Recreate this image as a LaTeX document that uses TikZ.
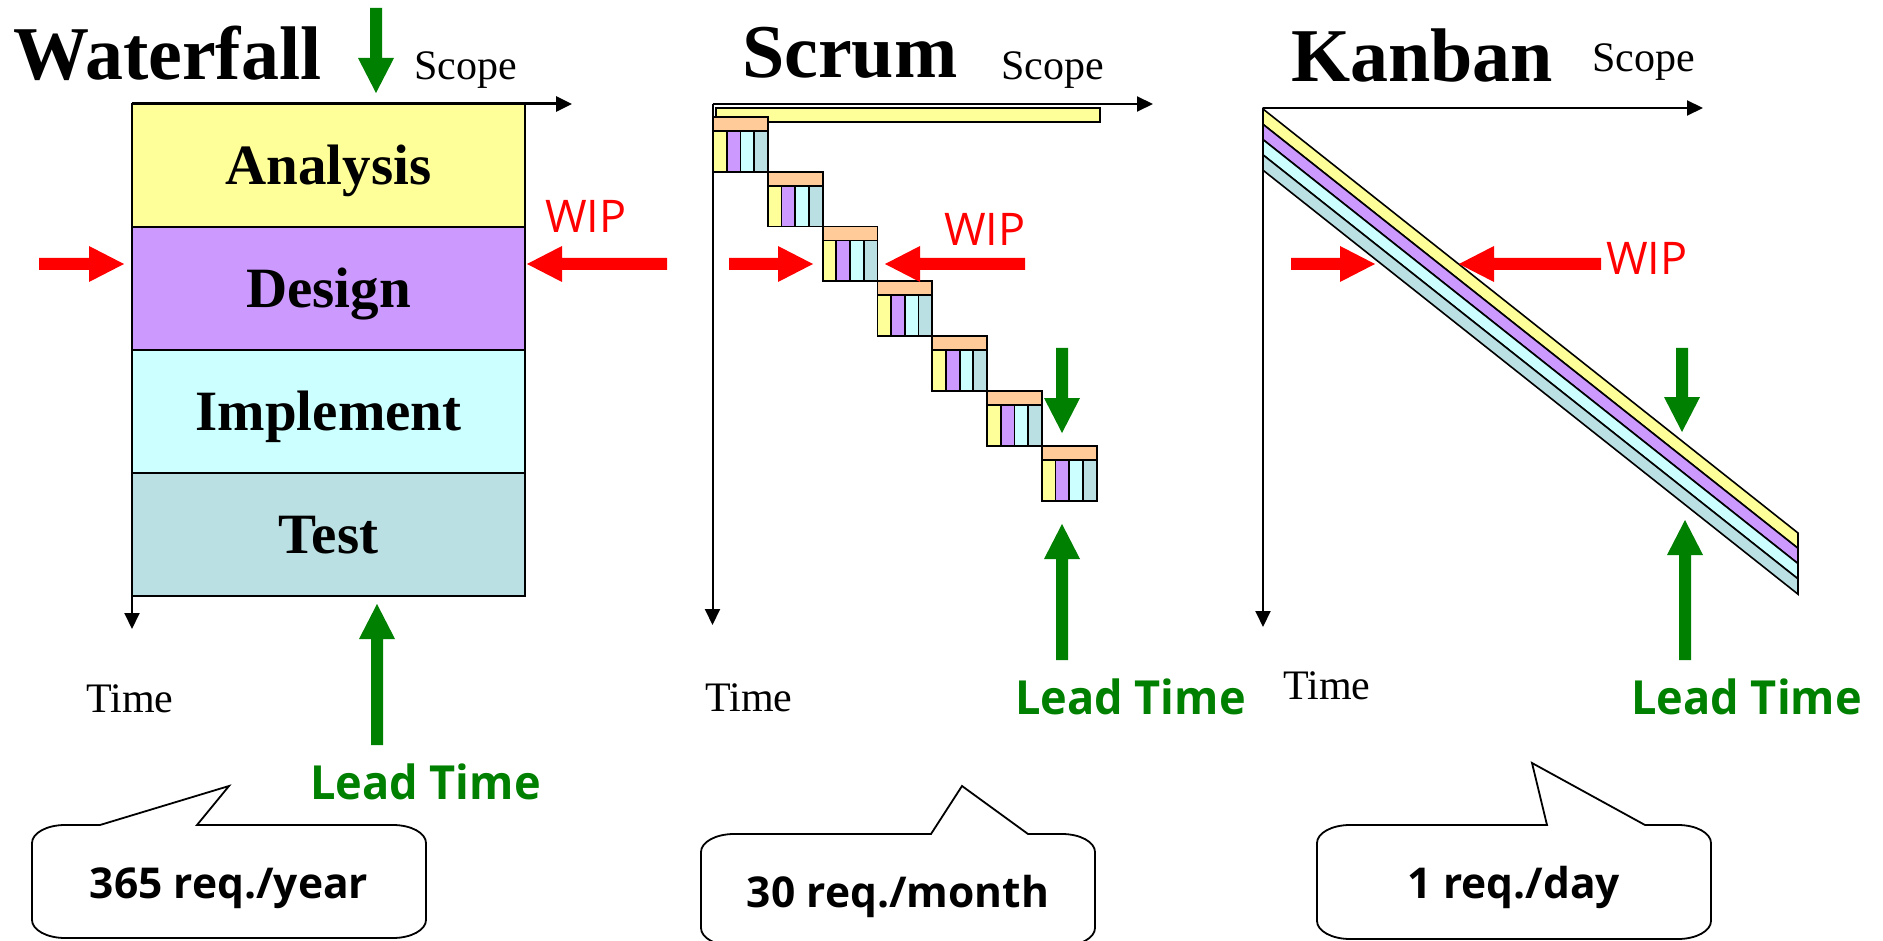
\documentclass[tikz,border=0pt]{standalone}
\usepackage{fontspec}
\setmainfont{Liberation Serif}
\newfontfamily\labelsans{Open Sans}
\newfontfamily\leadsans[FakeStretch=0.96]{Open Sans}
\usetikzlibrary{arrows.meta,calc}

\definecolor{anaY}{HTML}{FFFF99}
\definecolor{desP}{HTML}{CC99FF}
\definecolor{impC}{HTML}{CCFFFF}
\definecolor{tstT}{HTML}{BBE0E3}
\definecolor{hdrO}{HTML}{FFCC99}
\definecolor{leadG}{HTML}{008000}
\definecolor{wipR}{HTML}{FF0000}

% block arrow: colour, tail, tip
\newcommand{\blockarrow}[3]{%
  \path ($(#3)!35pt!(#2)$) coordinate (ahb);
  \fill[#1] ($(#2)!6pt!90:(#3)$) -- ($(ahb)!6pt!90:(#3)$) -- ($(ahb)!18pt!90:(#3)$)
    -- (#3) -- ($(ahb)!18pt!-90:(#3)$) -- ($(ahb)!6pt!-90:(#3)$) -- ($(#2)!6pt!-90:(#3)$) -- cycle;
}

% callout: left, top, right, bottom, pointer base left x, tip x, tip y, pointer base right x
\newcommand{\callout}[8]{%
  \filldraw[bubble] (#5,#2) -- (#6,#7) -- (#8,#2) -- ({#3-33},#2)
    arc[start angle=90, end angle=0, x radius=33pt, y radius=18pt] -- (#3,{#4-18})
    arc[start angle=0, end angle=-90, x radius=33pt, y radius=18pt] -- ({#1+33},#4)
    arc[start angle=-90, end angle=-180, x radius=33pt, y radius=18pt] -- (#1,{#2+18})
    arc[start angle=180, end angle=90, x radius=33pt, y radius=18pt] -- cycle;
}

\tikzset{
  axis/.style={draw=black, line width=2pt, -{Triangle[length=16pt,width=15pt]}},
  title/.style={font=\fontsize{76}{80}\selectfont\bfseries, inner sep=0, anchor=base west},
  axlabel/.style={font=\fontsize{42}{46}\selectfont, inner sep=0, anchor=base west},
  phase/.style={draw=black, line width=2pt, font=\fontsize{57}{60}\selectfont\bfseries,
    minimum width=393pt, minimum height=123pt, anchor=north west, inner sep=0, outer sep=0,
    text height=38pt, text depth=0pt},
  wip/.style={text=wipR, font=\labelsans\fontsize{45}{48}\selectfont, inner sep=0, anchor=base west},
  lead/.style={text=leadG, font=\leadsans\bfseries\fontsize{47}{50}\selectfont, inner sep=0, anchor=base west},
  rate/.style={font=\labelsans\bfseries\fontsize{42.5}{46}\selectfont, inner sep=0, anchor=base},
  bubble/.style={draw=black, fill=white, line width=1.8pt, line join=miter},
  cell/.style={draw=black, line width=1.8pt},
  band/.style={draw=black, line width=1.6pt, line join=miter},
}

\begin{document}
\begin{tikzpicture}[x=1pt, y=-1pt]
\useasboundingbox (0,0) rectangle (1883,941);
\fill[white] (0,0) rectangle (1883,941);

% ---------------- Waterfall ----------------
\node[title] (wfTitle) at (13,80) {Waterfall};
\node[axlabel] (wfScope) at (414,80) {Scope};
\node[phase, fill=anaY] (wfAna) at (132,104) {Analysis};
\node[phase, fill=desP] (wfDes) at (wfAna.south west) {Design};
\node[phase, fill=impC] (wfImp) at (wfDes.south west) {Implement};
\node[phase, fill=tstT] (wfTst) at (wfImp.south west) {Test};
\coordinate (wfO) at (132,104);
\coordinate (wfS) at (572,104);
\coordinate (wfT) at (132,629);
\draw[axis, line width=3pt] (wfO) -- (wfS);
\draw[axis] (wfO) -- (wfT);
\node[axlabel] (wfTime) at (86,712) {Time};
\node[wip] (wfWip) at (545,233) {WIP};
\node[lead] (wfLead) at (310,799) {Lead Time};

\coordinate (wfTopTail) at (376,8);   \coordinate (wfTopTip) at (376,93);
\coordinate (wfUpTail) at (377,745);  \coordinate (wfUpTip) at (377,604);
\coordinate (wfLTail) at (39,264);    \coordinate (wfLTip) at (124,264);
\coordinate (wfRTail) at (667,264);   \coordinate (wfRTip) at (527,264);
\blockarrow{leadG}{wfTopTail}{wfTopTip}
\blockarrow{leadG}{wfUpTail}{wfUpTip}
\blockarrow{wipR}{wfLTail}{wfLTip}
\blockarrow{wipR}{wfRTail}{wfRTip}

\callout{32}{825}{426}{938}{100}{229}{786}{197}
\node[rate] (wfRate) at (229,898) {365 req./year};

% ---------------- Scrum ----------------
\node[title] (scTitle) at (742,78) {Scrum};
\node[axlabel] (scScope) at (1001,80) {Scope};
\coordinate (scO) at (712.5,104);
\coordinate (scS) at (1153,104);
\coordinate (scT) at (712.5,625);
\draw[axis] (scO) -- (scS);
\draw[axis] (scO) -- (scT);
\draw[cell, fill=anaY] (716,108) rectangle (1100,122);
\foreach \i in {0,...,6}{
  \pgfmathsetmacro{\bx}{713+54.8*\i}
  \pgfmathsetmacro{\by}{117+54.8*\i}
  \draw[cell, fill=hdrO] (\bx,\by) rectangle ({\bx+54.8},{\by+14});
  \draw[cell, fill=anaY] (\bx,{\by+14}) rectangle ({\bx+13.7},{\by+54.8});
  \draw[cell, fill=desP] ({\bx+13.7},{\by+14}) rectangle ({\bx+27.4},{\by+54.8});
  \draw[cell, fill=impC] ({\bx+27.4},{\by+14}) rectangle ({\bx+41.1},{\by+54.8});
  \draw[cell, fill=tstT] ({\bx+41.1},{\by+14}) rectangle ({\bx+54.8},{\by+54.8});
}
\node[axlabel] (scTime) at (705,711) {Time};
\node[wip] (scWip) at (944,246) {WIP};
\node[lead] (scLead) at (1015,714) {Lead Time};

\coordinate (scDnTail) at (1062,348); \coordinate (scDnTip) at (1062,433);
\coordinate (scUpTail) at (1062,660); \coordinate (scUpTip) at (1062,524);
\coordinate (scLTail) at (729,264);   \coordinate (scLTip) at (813,264);
\coordinate (scRTail) at (1025,264);  \coordinate (scRTip) at (885,264);
\blockarrow{leadG}{scDnTail}{scDnTip}
\blockarrow{leadG}{scUpTail}{scUpTip}
\blockarrow{wipR}{scLTail}{scLTip}
\blockarrow{wipR}{scRTail}{scRTip}

\callout{701}{834}{1095}{946}{931}{962}{786}{1028}
\node[rate] (scRate) at (898,907) {30 req./month};

% ---------------- Kanban ----------------
\node[title] (kbTitle) at (1291,82) {Kanban};
\node[axlabel] (kbScope) at (1592,72) {Scope};
\coordinate (kbO) at (1263,108);
\coordinate (kbS) at (1703,108);
\coordinate (kbT) at (1263,627);
\draw[axis] (kbO) -- (kbS);
\draw[axis] (kbO) -- (kbT);
\foreach \c [count=\k from 0] in {anaY,desP,impC,tstT}{
  \pgfmathsetmacro{\ya}{109+15.3*\k}
  \pgfmathsetmacro{\yb}{109+15.3*(\k+1)}
  \draw[band, fill=\c] (1263,\ya) -- (1798,{\ya+424}) -- (1798,{\yb+424}) -- (1263,\yb) -- cycle;
}
\node[axlabel] (kbTime) at (1283,699) {Time};
\node[wip] (kbWip) at (1606,275) {WIP};
\node[lead] (kbLead) at (1631,714) {Lead Time};

\coordinate (kbDnTail) at (1682,348); \coordinate (kbDnTip) at (1682,432);
\coordinate (kbUpTail) at (1685,660); \coordinate (kbUpTip) at (1685,520);
\coordinate (kbLTail) at (1291,264);  \coordinate (kbLTip) at (1375,264);
\coordinate (kbRTail) at (1601,264);  \coordinate (kbRTip) at (1459,264);
\blockarrow{leadG}{kbDnTail}{kbDnTip}
\blockarrow{leadG}{kbUpTail}{kbUpTip}
\blockarrow{wipR}{kbLTail}{kbLTip}
\blockarrow{wipR}{kbRTail}{kbRTip}

\callout{1317}{825}{1711}{939}{1547}{1532}{763}{1645}
\node[rate] (kbRate) at (1514,898) {1 req./day};
\end{tikzpicture}
\end{document}
